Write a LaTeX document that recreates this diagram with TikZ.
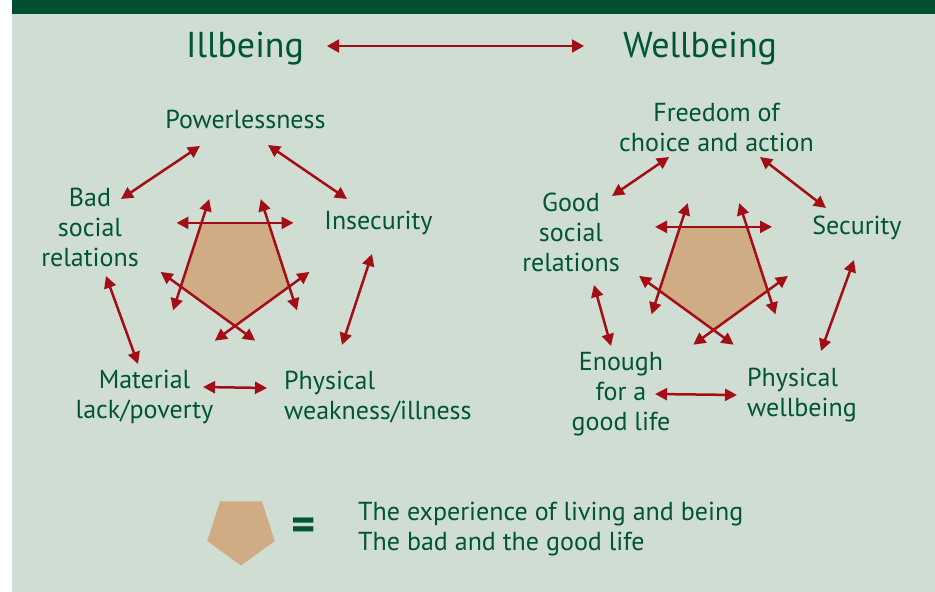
\documentclass[tikz,border=0pt]{standalone}
\usepackage{fontspec}
\setmainfont{PT Sans}
\usetikzlibrary{arrows.meta,calc}

\definecolor{bgcol}{RGB}{207,221,211}
\definecolor{barcol}{RGB}{0,80,48}
\definecolor{txtgreen}{RGB}{0,85,52}
\definecolor{arrred}{RGB}{163,14,22}
\definecolor{pentfill}{RGB}{208,172,132}

% corners of a pentagon pointing down: prefix, centre x, centre y, radius
\newcommand\pentcorners[4]{%
  \foreach \k in {0,...,4}{%
    \coordinate (#1\k) at ({#2+#4*sin(72*\k)},{#3+#4*cos(72*\k)});}}

\begin{document}
\begin{tikzpicture}[x=1pt,y=-1pt,
  lbl/.style={text=txtgreen, font=\fontsize{26}{30}\selectfont, align=center, inner sep=0pt},
  ttl/.style={text=txtgreen, font=\fontsize{36}{40}\selectfont, inner sep=0pt},
  tip/.tip={Triangle[length=12pt,width=12pt]},
  link/.style={draw=arrred, line width=2.5pt, tip-tip},
  titlelink/.style={draw=arrred, line width=2pt, {Triangle[length=12pt,width=13pt]}-{Triangle[length=12pt,width=13pt]}},
]
\useasboundingbox (0,0) rectangle (935,592);
\fill[white] (0,0) rectangle (935,592);
\fill[bgcol] (12,0) rectangle (935,592);
\fill[barcol] (12,0) rectangle (935,14);

% titles
\node[ttl] (ill) at (245,49) {Illbeing};
\node[ttl] (well) at (700,49) {Wellbeing};
\coordinate (tA) at (327,46);
\coordinate (tB) at (584,46);
\draw[titlelink] (tA) -- (tB);

% pentagons with extended, double-headed edges
\pentcorners{L}{235}{269}{57}
\pentcorners{R}{713.5}{273}{57}
\pentcorners{K}{241}{530}{35.5}
\foreach \p in {L,R}{%
  \fill[pentfill] (\p0)--(\p1)--(\p2)--(\p3)--(\p4)--cycle;
  \foreach \a/\b in {0/1,1/2,2/3,3/4,4/0}
    \draw[link] ($(\p\a)!-25pt!(\p\b)$) -- ($(\p\b)!-25pt!(\p\a)$);
}
\fill[pentfill] (K0)--(K1)--(K2)--(K3)--(K4)--cycle;

% ill-being labels
\node[lbl] (pow) at (245.5,119) {Powerlessness};
\node[lbl] (bad) at (90,227) {Bad\\social\\relations};
\node[lbl] (insec) at (378.5,223) {Insecurity};
\node[lbl] (mat) at (144.5,397) {Material\\lack/poverty};
\node[lbl, align=left, anchor=west] (weak) at (284,397) {Physical\\weakness/illness};

% well-being labels
\node[lbl] (free) at (716.5,127) {Freedom of\\choice and action};
\node[lbl] (good) at (571,232) {Good\\social\\relations};
\node[lbl] (sec) at (857,228) {Security};
\node[lbl] (enough) at (621,394) {Enough\\for a\\good life};
\node[lbl, align=left, anchor=west] (phys) at (747,395) {Physical\\wellbeing};

% connector end points
\coordinate (a1) at (200,146);  \coordinate (a2) at (121,199);
\coordinate (b1) at (268,145);  \coordinate (b2) at (347,199);
\coordinate (c1) at (372,254);  \coordinate (c2) at (342,345);
\coordinate (d1) at (106,276);  \coordinate (d2) at (138,364);
\coordinate (e1) at (203,387);  \coordinate (e2) at (267,388);
\coordinate (f1) at (669,157);  \coordinate (f2) at (612,196);
\coordinate (g1) at (760,157);  \coordinate (g2) at (826,208);
\coordinate (h1) at (854,260);  \coordinate (h2) at (821,351);
\coordinate (i1) at (594,285);  \coordinate (i2) at (611,346);
\coordinate (j1) at (655,394);  \coordinate (j2) at (737,395);
\foreach \n in {a,b,c,d,e,f,g,h,i,j}
  \draw[link] (\n1) -- (\n2);

% legend
\node[text=txtgreen, font=\fontsize{46}{46}\selectfont\bfseries, inner sep=0pt] (eq) at (303.5,529) {=};
\node[lbl, align=left, anchor=west] (legend) at (358,529) {The experience of living and being\\The bad and the good life};
\end{tikzpicture}
\end{document}
